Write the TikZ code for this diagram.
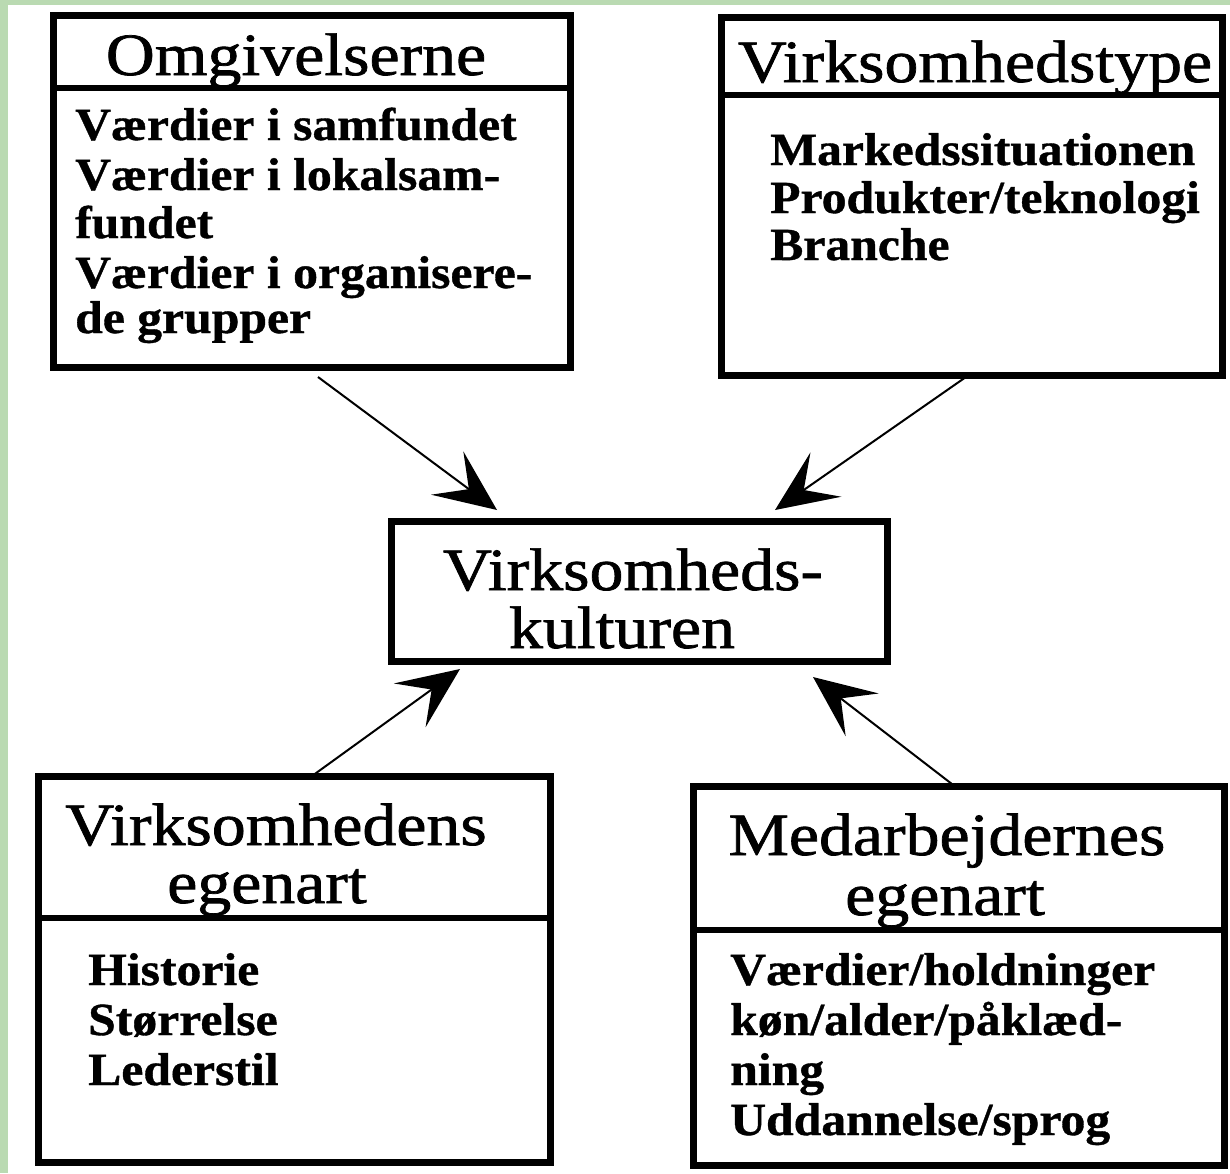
\documentclass[tikz,border=0pt]{standalone}
\usepackage{fontspec}
\setmainfont{Liberation Serif}
\newfontfamily\ttlfont[FakeStretch=1.13,FakeBold=1.2]{Liberation Serif}
\newfontfamily\bdyfont[FakeStretch=1.08,FakeBold=0.8]{Liberation Serif}
\usetikzlibrary{arrows.meta}
\definecolor{bggreen}{RGB}{186,218,178}
\tikzset{
  box/.style={draw=black, line width=7pt, rectangle, inner sep=0pt, outer sep=0pt, fill=white},
  divline/.style={draw=black, line width=6pt},
  ttl/.style={anchor=base, inner sep=0pt, font=\ttlfont\fontsize{60}{62}\selectfont},
  bdy/.style={anchor=base west, inner sep=0pt, font=\bdyfont\bfseries\fontsize{46}{50}\selectfont},
  arr/.style={draw=black, line width=2pt, -{Stealth[length=62pt,width=54pt,inset=27pt]}}
}
\begin{document}
\begin{tikzpicture}[x=1pt,y=-1pt]
\useasboundingbox (0,0) rectangle (1230,1173);
\fill[bggreen] (0,0) rectangle (1230,1173);
\fill[white] (8,5) rectangle (1230,1173);

% boxes
\node[box, minimum width=517pt, minimum height=352pt] (omg) at (311.5,191) {};
\node[box, minimum width=501pt, minimum height=358pt] (typ) at (971.5,196) {};
\node[box, minimum width=496pt, minimum height=140pt] (cen) at (639,591) {};
\node[box, minimum width=512pt, minimum height=386pt] (vegn) at (294,969) {};
\node[box, minimum width=531pt, minimum height=379pt] (megn) at (958.5,975.5) {};

% dividers
\draw[divline] ([yshift=-73pt]omg.north west) -- ([yshift=-73pt]omg.north east);
\draw[divline] ([yshift=-78pt]typ.north west) -- ([yshift=-78pt]typ.north east);
\draw[divline] ([yshift=-142pt]vegn.north west) -- ([yshift=-142pt]vegn.north east);
\draw[divline] ([yshift=-144pt]megn.north west) -- ([yshift=-144pt]megn.north east);

% titles
\node[ttl] (t1) at (296,75) {Omgivelserne};
\node[ttl] (t2) at (975,82) {Virksomhedstype};
\node[ttl] (c1) at (633,590) {Virksomheds-};
\node[ttl] (c2) at (622,648) {kulturen};
\node[ttl] (t3a) at (276,845) {Virksomhedens};
\node[ttl] (t3b) at (267,903) {egenart};
\node[ttl] (t4a) at (947,855) {Medarbejdernes};
\node[ttl] (t4b) at (945,915) {egenart};

% body texts
\node[bdy] (o1) at (75,140) {Værdier i samfundet};
\node[bdy] (o2) at (75,190) {Værdier i lokalsam-};
\node[bdy] (o3) at (75,238) {fundet};
\node[bdy] (o4) at (75,288) {Værdier i organisere-};
\node[bdy] (o5) at (75,333) {de grupper};

\node[bdy] (v1) at (770,165) {Markedssituationen};
\node[bdy] (v2) at (770,213) {Produkter/teknologi};
\node[bdy] (v3) at (770,260) {Branche};

\node[bdy] (h1) at (88,985) {Historie};
\node[bdy] (h2) at (88,1035) {Størrelse};
\node[bdy] (h3) at (88,1085) {Lederstil};

\node[bdy] (m1) at (730,985) {Værdier/holdninger};
\node[bdy] (m2) at (730,1035) {køn/alder/påklæd-};
\node[bdy] (m3) at (730,1085) {ning};
\node[bdy] (m4) at (730,1135) {Uddannelse/sprog};

% arrows
\draw[arr] ([xshift=6.5pt,yshift=-10pt]omg.south) -- ([xshift=-142pt,yshift=11pt]cen.north);
\draw[arr] ([xshift=-7pt,yshift=-3pt]typ.south) -- ([xshift=136pt,yshift=11pt]cen.north);
\draw[arr] ([xshift=18pt]vegn.north) -- ([xshift=-179pt,yshift=-8pt]cen.south);
\draw[arr] ([xshift=-4pt]megn.north) -- ([xshift=174pt,yshift=-16pt]cen.south);
\end{tikzpicture}
\end{document}
